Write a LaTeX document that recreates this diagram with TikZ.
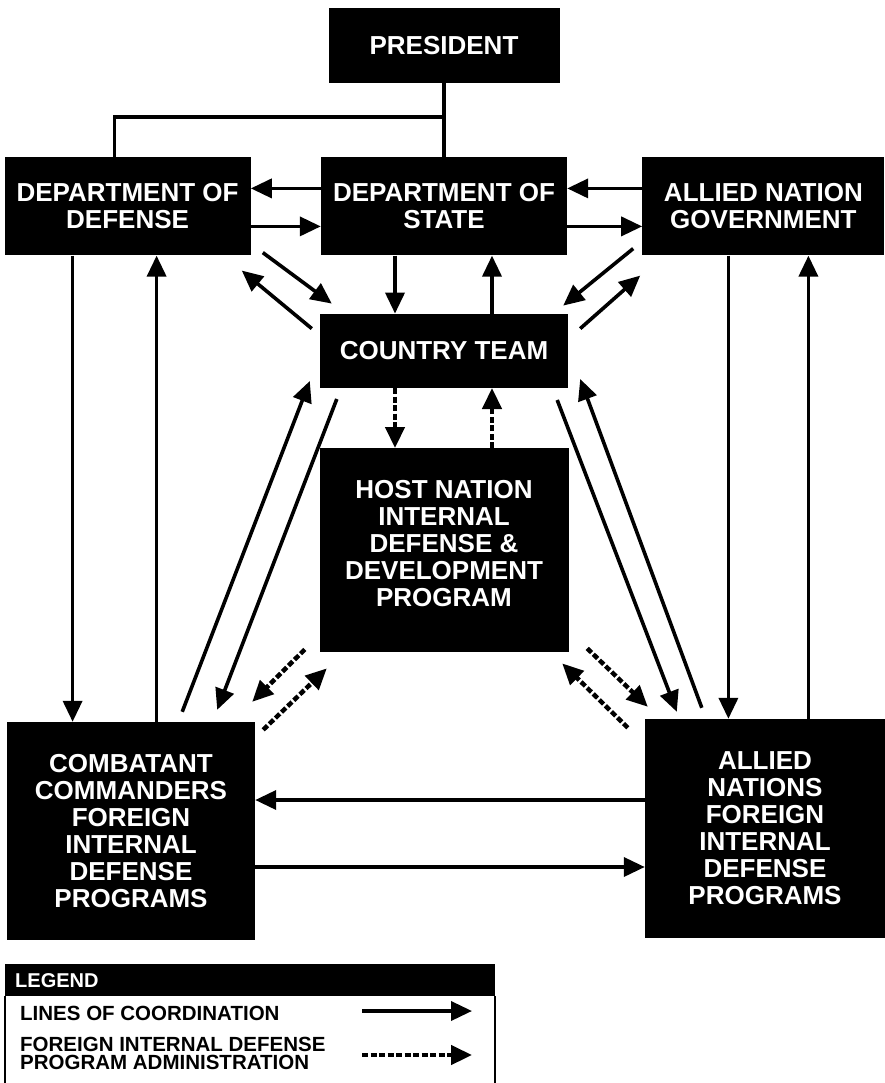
\documentclass[tikz,border=0pt]{standalone}
\usepackage{fontspec}
\setmainfont{Liberation Sans}
\usetikzlibrary{arrows.meta, positioning, calc}

\begin{document}
\begin{tikzpicture}[
      x=1pt, y=-1pt,
      font=\bfseries\fontsize{26}{27}\selectfont,
      box/.style={rectangle, fill=black, text=white, align=center, inner sep=0pt},
      arrow/.style={line width=3.6pt, -{Triangle[length=21pt, width=19pt]}},
      dasharrow/.style={arrow, line width=4.5pt, dash pattern=on 6pt off 2.5pt},
      line/.style={line width=3.6pt},
      frame/.style={line width=2pt},
      legendfont/.style={font=\bfseries\fontsize{20.5}{18.5}\selectfont}
    ]
      \useasboundingbox (0,0) rectangle (885,1083);

      \node (president) [box, minimum width=231pt, minimum height=75pt] at (444,45.5) {PRESIDENT};
      \node (dos) [box, minimum width=246pt, minimum height=98pt, below=74pt of president] {DEPARTMENT OF\\STATE};
      \node (dod) [box, minimum width=246pt, minimum height=98pt, left=70pt of dos] {DEPARTMENT OF\\DEFENSE};
      \node (ang) [box, minimum width=242pt, minimum height=98pt, right=75pt of dos] {ALLIED NATION\\GOVERNMENT};
      \node (ct) [box, minimum width=248pt, minimum height=74pt, below=58pt of dos] {COUNTRY TEAM};
      \node (hn) [box, minimum width=249pt, minimum height=204pt, text depth=14pt, below=60pt of ct] {HOST NATION\\INTERNAL\\DEFENSE \&\\DEVELOPMENT\\PROGRAM};
      \node (cc) [box, minimum width=248pt, minimum height=218pt] at (131,831) {COMBATANT\\COMMANDERS\\FOREIGN\\INTERNAL\\DEFENSE\\PROGRAMS};
      \node (anfid) [box, minimum width=240pt, minimum height=219pt] at (765,828.5) {ALLIED\\NATIONS\\FOREIGN\\INTERNAL\\DEFENSE\\PROGRAMS};

      % president to the departments
      \coordinate (split) at ($(president.south)!0.46!(dos.north)$);
      \draw [line] (president.south) -- (dos.north);
      \draw [line] (split) -| ([xshift=-13pt]dod.north);

      \draw [arrow] ([yshift=18pt]dos.west) -- ([yshift=18pt]dod.east);
      \draw [arrow] ([yshift=-20pt]dod.east) -- ([yshift=-20pt]dos.west);
      \draw [arrow] ([yshift=18pt]ang.west) -- ([yshift=18pt]dos.east);
      \draw [arrow] ([yshift=-20pt]dos.east) -- ([yshift=-20pt]ang.west);

      \draw [arrow] ([xshift=-49pt]dos.south) -- ([xshift=-49pt]ct.north);
      \draw [arrow] ([xshift=48pt]ct.north) -- ([xshift=48pt]dos.south);
      \draw [dasharrow] ([xshift=-49pt]ct.south) -- ([xshift=-49pt]hn.north);
      \draw [dasharrow] ([xshift=48pt]hn.north) -- ([xshift=48pt]ct.south);

      \draw [arrow] ([shift={(12pt,3pt)}]dod.south east) -- ([shift={(12pt,10pt)}]ct.north west);
      \draw [arrow] ([shift={(-8pt,-15pt)}]ct.north west) -- ([shift={(-9pt,-15pt)}]dod.south east);
      \draw [arrow] ([shift={(-9pt,7pt)}]ang.south west) -- ([shift={(-5pt,8pt)}]ct.north east);
      \draw [arrow] ([shift={(12pt,-15pt)}]ct.north east) -- ([shift={(-2pt,-20pt)}]ang.south west);

      % down to the programs
      \draw [arrow] ([xshift=-55pt]dod.south) -- ([xshift=-55pt]dod.south |- cc.north);
      \draw [arrow] ([xshift=29pt]dod.south |- cc.north) -- ([xshift=29pt]dod.south);
      \draw [arrow] ([xshift=-35pt]ang.south) -- ([xshift=-35pt]ang.south |- anfid.north);
      \draw [arrow] ([xshift=45pt]ang.south |- anfid.north) -- ([xshift=45pt]ang.south);

      \draw [arrow] ([shift={(-73pt,10pt)}]cc.north east) -- ([shift={(-10pt,7pt)}]ct.south west);
      \draw [arrow] ([shift={(17pt,-11pt)}]ct.south west) -- ([shift={(-38pt,12pt)}]cc.north east);
      \draw [arrow] ([shift={(-11pt,-12pt)}]ct.south east) -- ([shift={(32pt,7pt)}]anfid.north west);
      \draw [arrow] ([shift={(57pt,11pt)}]anfid.north west) -- ([shift={(12pt,9pt)}]ct.south east);

      \draw [dasharrow] ([shift={(-14.5pt,3pt)}]hn.south west) -- ([shift={(-3pt,20pt)}]cc.north east);
      \draw [dasharrow] ([shift={(8pt,-8pt)}]cc.north east) -- ([shift={(7.5pt,-16pt)}]hn.south west);
      \draw [dasharrow] ([shift={(18.5pt,4pt)}]hn.south east) -- ([shift={(3pt,12pt)}]anfid.north west);
      \draw [dasharrow] ([shift={(-17pt,-9pt)}]anfid.north west) -- ([shift={(-6.5pt,-11pt)}]hn.south east);

      \draw [arrow] ([yshift=31pt]cc.east -| anfid.west) -- ([yshift=31pt]cc.east);
      \draw [arrow] ([yshift=-36pt]cc.east) -- ([yshift=-36pt]cc.east -| anfid.west);

      % legend
      \coordinate (pagebottom) at (0,1083);
      \node (legendhead) [box, anchor=north west, text width=470pt, align=left, inner xsep=10pt, minimum height=32pt, font=\bfseries\fontsize{20}{20}\selectfont] at (5,964) {LEGEND};
      \draw [frame] (legendhead.south west) -- (legendhead.south west |- pagebottom);
      \draw [frame] (legendhead.south east) -- (legendhead.south east |- pagebottom);
      \node (coordtext) [legendfont, anchor=base west, inner sep=0pt] at (20,1020) {LINES OF COORDINATION};
      \node (fidtext) [legendfont, anchor=west, align=left, inner sep=0pt] at (20,1053.5) {FOREIGN INTERNAL DEFENSE\\PROGRAM ADMINISTRATION};
      \coordinate (solidfrom) at (362,1011);
      \coordinate (solidto) at (472,1011);
      \coordinate (dashfrom) at (362,1055);
      \coordinate (dashto) at (472,1055);
      \draw [arrow] (solidfrom) -- (solidto);
      \draw [dasharrow] (dashfrom) -- (dashto);
    \end{tikzpicture}
\end{document}
